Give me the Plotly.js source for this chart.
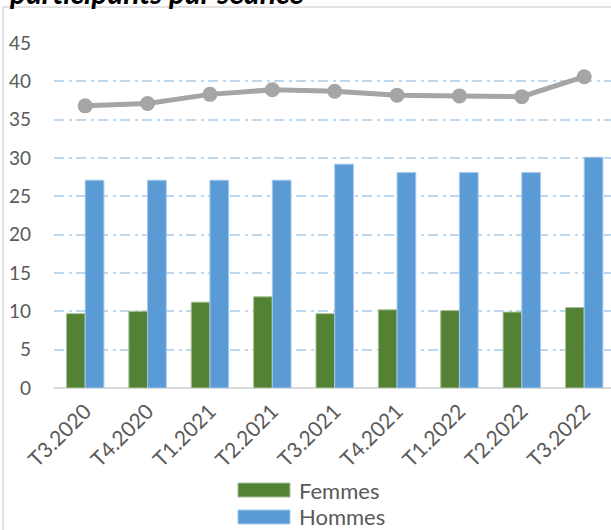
<!DOCTYPE html>
<html>
<head>
<meta charset="utf-8">
<script src="https://cdn.plot.ly/plotly-3.0.1.min.js"></script>
<style>
  html, body { margin: 0; padding: 0; overflow: hidden; background: #fff; }
</style>
</head>
<body>
<div id="chart"></div>
<script>
let quarters = ['T3.2020', 'T4.2020', 'T1.2021', 'T2.2021', 'T3.2021', 'T4.2021', 'T1.2022', 'T2.2022', 'T3.2022']
let femmes = [9.7, 10.0, 11.2, 11.9, 9.7, 10.2, 10.1, 9.9, 10.5]
let hommes = [27.1, 27.1, 27.1, 27.1, 29.2, 28.1, 28.1, 28.1, 30.1]
let total = [36.8, 37.1, 38.3, 38.9, 38.7, 38.2, 38.1, 38.0, 40.6]

function drawChart() {
  let tickFont = { family: 'Lato, sans-serif', size: 19, color: '#595959' }
  let traces = [
    {
      x: quarters,
      y: femmes,
      name: 'Femmes',
      type: 'bar',
      marker: { color: '#548235', line: { color: '#a9c29a', width: 1 } }
    },
    {
      x: quarters,
      y: hommes,
      name: 'Hommes',
      type: 'bar',
      marker: { color: '#5b9bd5', line: { color: '#a6c8ea', width: 1 } }
    },
    {
      x: quarters,
      y: total,
      name: 'Total',
      type: 'scatter',
      mode: 'lines+markers',
      line: { color: '#a5a5a5', width: 5 },
      marker: { color: '#a5a5a5', size: 15 }
    }
  ]

  // legend drawn by hand so the swatches are wide bars like the original
  let shapes = [
    {
      type: 'rect', xref: 'paper', yref: 'paper',
      x0: -0.0915, x1: 1.5, y0: -0.6, y1: 1.1043,
      line: { color: '#d9d9d9', width: 1.5 },
      fillcolor: 'rgba(0,0,0,0)'
    }
  ]
  let annotations = [
    {
      text: '<b><i>participants par séance</i></b>',
      xref: 'paper', yref: 'paper',
      x: -0.084, xanchor: 'left',
      y: 1.089, yanchor: 'bottom',
      showarrow: false,
      font: { family: 'Lato, sans-serif', size: 30, color: '#000000' }
    }
  ]
  let legendRows = [-0.2957, -0.3739]
  traces.slice(0, 2).forEach(function (t, i) {
    let yc = legendRows[i]
    shapes.push({
      type: 'rect', xref: 'paper', yref: 'paper',
      x0: 0.3303, x1: 0.4237, y0: yc - 0.0203, y1: yc + 0.0203,
      fillcolor: t.marker.color,
      line: { color: t.marker.line.color, width: 1 }
    })
    annotations.push({
      text: t.name,
      xref: 'paper', yref: 'paper',
      x: 0.4363, xanchor: 'left',
      y: yc, yanchor: 'middle',
      showarrow: false,
      font: { family: 'Lato, sans-serif', size: 22, color: '#595959' }
    })
  })

  let layout = {
    width: 611,
    height: 530,
    margin: { l: 54, r: 0, t: 43, b: 142, autoexpand: false },
    paper_bgcolor: '#ffffff',
    plot_bgcolor: '#ffffff',
    barmode: 'group',
    bargap: 0.4,
    bargroupgap: 0,
    showlegend: false,
    font: tickFont,
    xaxis: {
      automargin: false,
      range: [-0.5, 8.43],
      tickangle: -45,
      tickfont: { family: 'Lato, sans-serif', size: 21, color: '#595959' },
      ticklabelstandoff: 6,
      showgrid: false,
      showline: false,
      zeroline: false,
      ticks: ''
    },
    yaxis: {
      automargin: false,
      range: [0, 45],
      dtick: 5,
      tickfont: tickFont,
      showgrid: true,
      gridcolor: '#bdd7ee',
      gridwidth: 2,
      griddash: '10px,5px,3px,4px',
      zeroline: true,
      zerolinecolor: '#d9d9d9',
      zerolinewidth: 2,
      ticks: '',
      ticklabelstandoff: 22
    },
    shapes: shapes,
    annotations: annotations
  }
  return Plotly.newPlot('chart', traces, layout, { displayModeBar: false, staticPlot: true })
}
drawChart()
</script>
</body>
</html>
